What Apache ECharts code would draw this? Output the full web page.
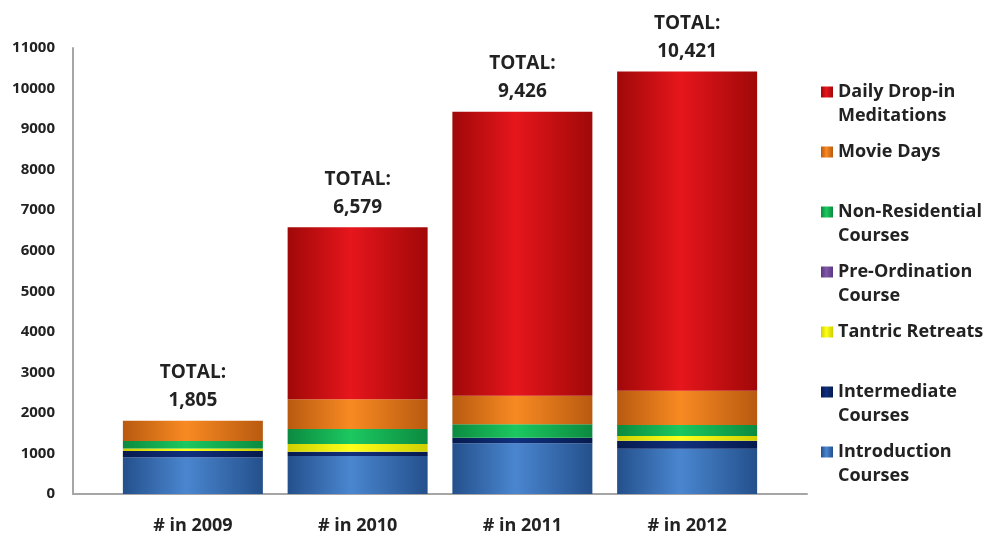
<!DOCTYPE html>
<html>
<head>
<meta charset="utf-8">
<script src="https://cdn.jsdelivr.net/npm/echarts@6/dist/echarts.min.js"></script>
<style>
  html, body { margin: 0; padding: 0; background: #fff; }
  #chart { width: 987px; height: 535px; }
</style>
</head>
<body>
<div id="chart"></div>
<script>
const categories = ['# in 2009', '# in 2010', '# in 2011', '# in 2012']
const totals = ['1,805', '6,579', '9,426', '10,421']

// stacked from the bottom up
const introduction = [905, 937, 1250, 1118]
const intermediate = [155, 106, 139, 197]
const tantric = [65, 190, 0, 115]
const preOrdination = [0, 0, 0, 0]
const nonResidential = [180, 370, 329, 272]
const movieDays = [500, 732, 707, 846]
const dropIn = [0, 4244, 7001, 7873]

const yTicks = { min: 0, max: 11000, interval: 1000 }

const FONT = '"Open Sans", "Noto Sans", sans-serif'

function shade(dark, light) {
  return new echarts.graphic.LinearGradient(0, 0, 1, 0, [
    { offset: 0, color: dark },
    { offset: 0.45, color: light },
    { offset: 1, color: dark }
  ])
}

const seriesDefs = [
  { name: 'Introduction\nCourses', data: introduction, dark: '#24508c', light: '#4a86cf' },
  { name: 'Intermediate\nCourses', data: intermediate, dark: '#061a4e', light: '#10307e' },
  { name: 'Tantric Retreats', data: tantric, dark: '#cfcf00', light: '#ffff1a' },
  { name: 'Pre-Ordination\nCourse', data: preOrdination, dark: '#5a3880', light: '#8058a8' },
  { name: 'Non-Residential\nCourses', data: nonResidential, dark: '#0c8a40', light: '#1cc860' },
  { name: 'Movie Days', data: movieDays, dark: '#b85a10', light: '#f88a22' },
  { name: 'Daily Drop-in\nMeditations', data: dropIn, dark: '#a00808', light: '#e6161c' }
]

const legendIcons = {
  'Introduction\nCourses': '#3a70b8',
  'Intermediate\nCourses': '#0c2668',
  'Tantric Retreats': '#f2f200',
  'Pre-Ordination\nCourse': '#7050a0',
  'Non-Residential\nCourses': '#16b050',
  'Movie Days': '#e8781a',
  'Daily Drop-in\nMeditations': '#d01010'
}

const series = seriesDefs.map((s, i) => {
  const item = {
    name: s.name,
    type: 'bar',
    stack: 'total',
    xAxisIndex: 1,
    yAxisIndex: 1,
    barWidth: 140,
    data: s.data,
    itemStyle: { color: shade(s.dark, s.light) }
  }
  if (i === seriesDefs.length - 1) {
    item.label = {
      show: true,
      position: 'top',
      distance: 6,
      formatter: p => 'TOTAL:\n' + totals[p.dataIndex],
      fontFamily: FONT,
      fontSize: 19,
      fontWeight: 'bold',
      lineHeight: 28,
      color: '#222'
    }
  }
  return item
})

const chart = echarts.init(document.getElementById('chart'))

chart.setOption({
  animation: false,
  color: seriesDefs.map(s => legendIcons[s.name]),
  legend: {
    orient: 'vertical',
    left: 816,
    top: 51,
    itemGap: -12,
    itemWidth: 12,
    itemHeight: 11,
    icon: 'rect',
    data: seriesDefs.map(s => s.name).reverse(),
    formatter: name => '\n' + name + (name.indexOf('\n') < 0 ? '\n' : ''),
    textStyle: {
      fontFamily: FONT,
      fontSize: 18,
      fontWeight: 'bold',
      lineHeight: 24,
      color: '#222'
    }
  },
  grid: [
    { left: 73, right: 180, top: 48, bottom: 41 },
    { left: 110.5, right: 217.5, top: 48, bottom: 41 }
  ],
  xAxis: [
    {
      type: 'value',
      gridIndex: 0,
      min: 0,
      max: 1,
      axisLine: { show: true, lineStyle: { color: '#a6a6a6', width: 2 } },
      axisTick: { show: false },
      axisLabel: { show: false },
      splitLine: { show: false }
    },
    {
      type: 'category',
      gridIndex: 1,
      data: categories,
      axisLine: { show: false },
      axisTick: { show: false },
      axisLabel: {
        margin: 23,
        fontFamily: FONT,
        fontSize: 18,
        fontWeight: 'bold',
        color: '#222'
      }
    }
  ],
  yAxis: [
    {
      type: 'value',
      gridIndex: 0,
      min: yTicks.min,
      max: yTicks.max,
      interval: yTicks.interval,
      axisLine: { show: true, lineStyle: { color: '#a6a6a6', width: 2 } },
      axisTick: { show: false },
      splitLine: { show: false },
      axisLabel: {
        margin: 18,
        formatter: v => String(v),
        fontFamily: FONT,
        fontSize: 15,
        fontWeight: 'bold',
        color: '#222'
      }
    },
    {
      type: 'value',
      gridIndex: 1,
      min: yTicks.min,
      max: yTicks.max,
      interval: yTicks.interval,
      show: false,
      splitLine: { show: false }
    }
  ],
  series: series
})
</script>
</body>
</html>
